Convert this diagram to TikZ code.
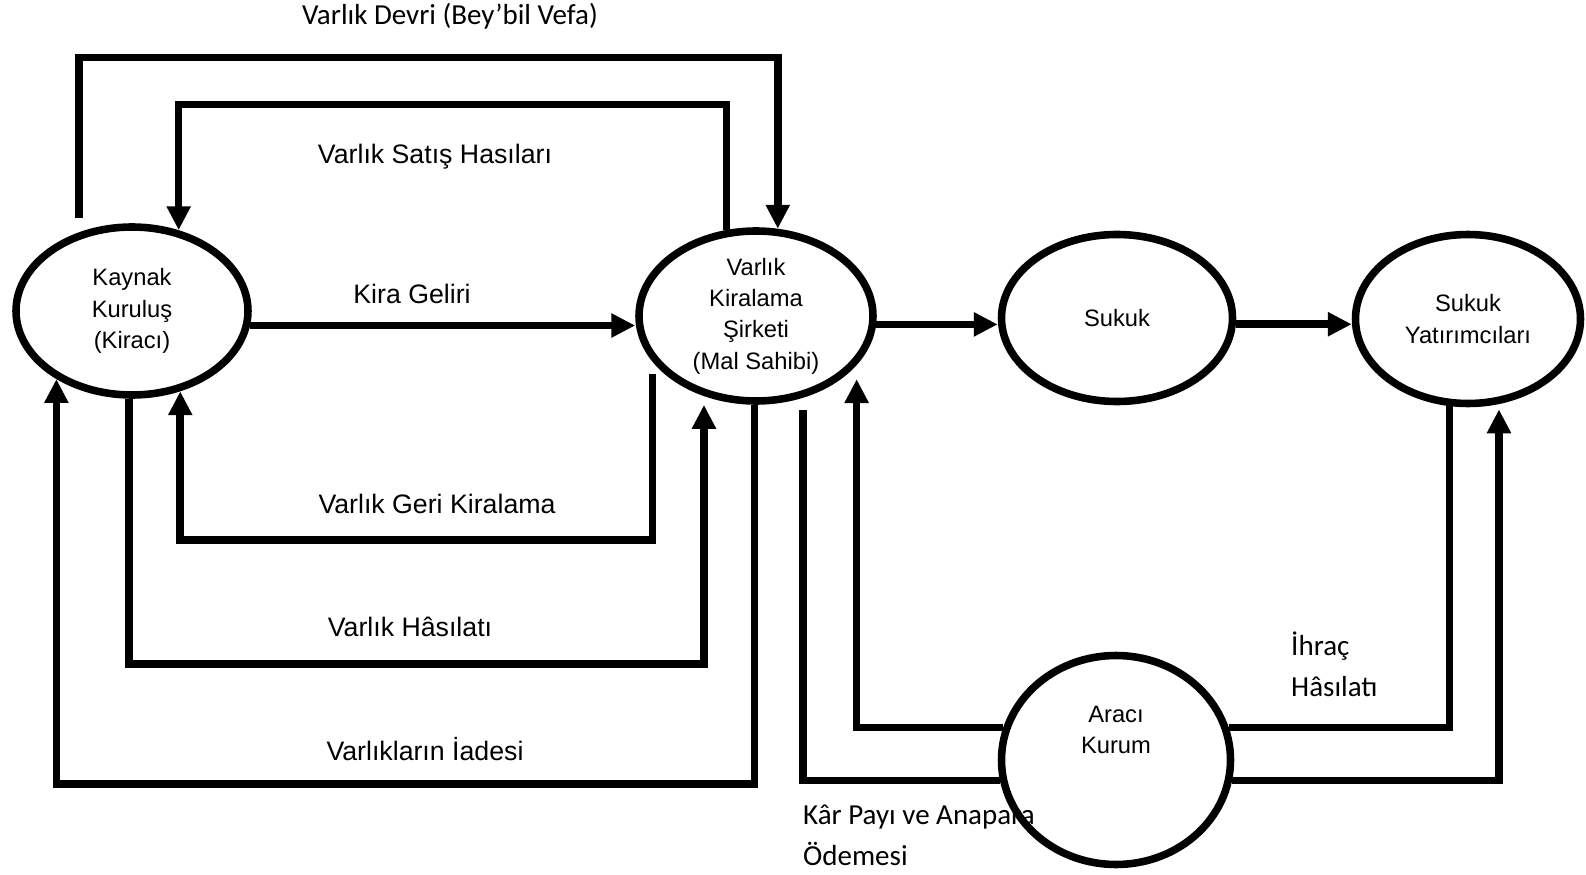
\documentclass[tikz,border=0pt]{standalone}
\usepackage{fontspec}
\setmainfont{Liberation Sans}
\newfontfamily\calibri{Carlito}
\usepackage{tikz}
\usetikzlibrary{positioning, arrows.meta, shapes.geometric, calc}

\begin{document}
\begin{tikzpicture}[
    varlik/.style={draw, ellipse, line width=4.3pt, inner sep=0pt, align=center, font=\fontsize{13.5}{17.8}\selectfont},
    arrow/.style={-{Triangle[length=13.6pt, width=13pt]}, line width=4.3pt},
    flow/.style={line width=4.3pt},
    lbl/.style={font=\fontsize{15.2}{18}\selectfont},
    note/.style={font=\calibri\fontsize{16.5}{23.2}\selectfont, align=left}
]
    \useasboundingbox (0,0) rectangle (31.72,17.48);

    % Taraflar
    \node[varlik, minimum width=4.64cm, minimum height=3.36cm] (kaynak) at (2.64,11.26) {Kaynak\\Kuruluş\\(Kiracı)};
    \node[varlik, minimum width=4.68cm, minimum height=3.40cm] (kiralama) at (15.12,11.16) {Varlık\\Kiralama\\Şirketi\\(Mal Sahibi)};
    \node[varlik, minimum width=4.62cm, minimum height=3.34cm] (sukuk) at (22.34,11.12) {Sukuk};
    \node[varlik, minimum width=4.50cm, minimum height=3.38cm] (yatirimci) at (29.36,11.10) {Sukuk\\Yatırımcıları};
    \node[varlik, minimum width=4.58cm, minimum height=4.18cm] (araci) at (22.32,2.28) {};
    \node[varlik, draw=none] (araciyazi) at (22.32,2.88) {Aracı\\Kurum};

    % Varlık devri
    \draw[arrow, shorten <=8pt] (kaynak.124) -- ++(0,3.5) -| (kiralama.76);
    \node[note] (devri) at (9.0,17.16) {Varlık Devri (Bey’bil Vefa)};

    % Satış hasılatı
    \draw[arrow] (kiralama.109) -- ++(0,2.51) -| (kaynak.60);
    \node[lbl] (satis) at (8.70,14.34) {Varlık Satış Hasıları};

    % Kira geliri
    \draw[arrow] (kaynak.-7) -- (kaynak.-7 -| kiralama.west);
    \node[lbl] (kira) at (8.24,11.60) {Kira Geliri};

    % Geri kiralama
    \draw[arrow, shorten <=7pt] (kiralama.204.6) -- ++(0,-3.56) -| (kaynak.-59);
    \node[lbl] (geri) at (8.74,7.40) {Varlık Geri Kiralama};

    % Varlık hasılatı
    \draw[arrow, shorten >=5pt] (kaynak.-92) -- ++(0,-5.3) -| (kiralama.-123);
    \node[lbl] (hasilat) at (8.20,4.94) {Varlık Hâsılatı};

    % İade
    \draw[arrow] (kiralama.-91) -- ++(0,-7.58) -| (kaynak.-138);
    \node[lbl] (iade) at (8.50,2.50) {Varlıkların İadesi};

    % Sukuk ihracı
    \draw[arrow] (kiralama.-4) -- (kiralama.-4 -| sukuk.west);
    \draw[arrow] (sukuk.-3.5) -- (sukuk.-3.5 -| yatirimci.west);

    % Aracı kurum
    \draw[arrow, shorten >=8pt] (araci.164) -| (kiralama.-26);
    \draw[flow, shorten <=7pt] (kiralama.-60) |- (araci.190);
    \node[note, anchor=west] (kar) at (15.94,0.77) {Kâr Payı ve Anapara\\Ödemesi};
    \draw[flow] (yatirimci.-102) |- (araci.16);
    \node[note, anchor=west] (ihrac) at (25.70,4.20) {İhraç\\Hâsılatı};
    \draw[arrow, shorten >=3pt] (araci.-10) -| (yatirimci.-70);
\end{tikzpicture}
\end{document}
